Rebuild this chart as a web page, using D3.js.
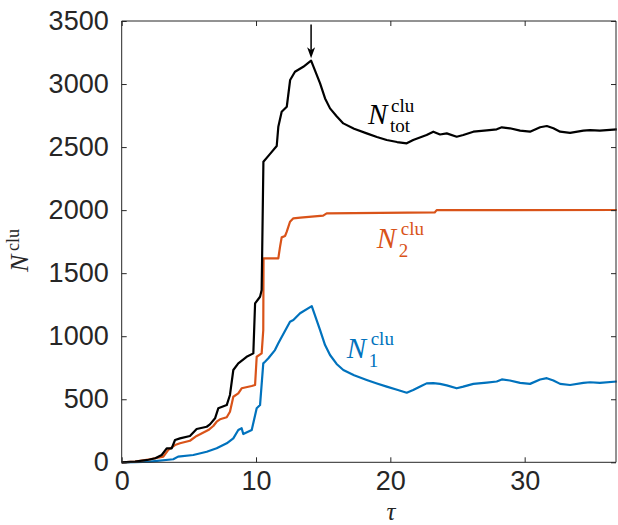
<!DOCTYPE html>
<html><head><meta charset="utf-8">
<script src="https://cdn.jsdelivr.net/npm/d3@7"></script>
<style>body{margin:0;background:#fff}svg{display:block}</style>
</head><body>
<script>
// ---- data ----
const tauTot = [0,1,2,2.5,2.98,3.35,3.72,3.97,4.34,5.08,5.58,6.33,6.57,6.95,7.19,7.82,8.06,8.31,8.68,9.3,9.8,9.93,10.3,10.42,10.55,11.0,11.54,11.66,11.91,12.29,12.54,12.9,13.52,14.1,14.77,15.14,15.51,16.0,16.5,17.3,18.24,19.0,19.73,20.5,21.22,21.7,22.3,22.7,23.2,23.7,24.2,24.94,25.43,26.18,27.18,27.92,28.3,28.9,29.66,30.4,31.15,31.65,32.14,32.64,33.38,34.37,34.87,35.6,36.86];
const nTot   = [0,5,20,32,58,111,111,177,190,209,264,282,301,349,428,454,534,732,785,837,864,1260,1313,1366,2384,2440,2508,2661,2780,2820,3032,3097,3137,3185,3005,2886,2807,2745,2688,2645,2609,2580,2556,2540,2530,2556,2580,2596,2622,2600,2609,2582,2596,2622,2632,2641,2657,2649,2630,2622,2657,2667,2649,2622,2613,2630,2635,2630,2641];

const tauN2 = [0,1,2.1,3.1,3.47,3.97,4.34,5.08,5.58,6.45,6.82,7.07,7.32,7.82,8.06,8.31,8.68,8.93,9.68,9.93,10.05,10.42,10.54,10.56,11.66,11.79,11.91,12.16,12.29,12.53,12.78,13.3,15.0,15.26,23.3,23.45,36.86];
const nN2   = [0,5,24,45,98,137,151,171,209,256,288,322,341,357,401,520,547,587,605,613,837,864,1049,1618,1618,1710,1784,1795,1829,1908,1935,1940,1956,1974,1982,2000,2001];

const tauN1 = [0,1,2.1,3.84,4.2,5.33,6.33,7.07,7.82,8.31,8.68,8.93,9.05,9.68,10.05,10.3,10.54,10.67,10.92,11.41,11.66,11.79,12.53,12.78,13.28,14.15,14.77,15.14,15.51,16.0,16.5,17.3,18.24,19.0,19.73,20.5,21.22,21.7,22.3,22.7,23.2,23.7,24.2,24.94,25.43,26.18,27.18,27.92,28.3,28.9,29.66,30.4,31.15,31.65,32.14,32.64,33.38,34.37,34.87,35.6,36.86];
const nN1   = [0,1,5,24,45,58,84,111,151,190,256,270,224,256,428,454,785,798,825,890,944,970,1115,1128,1182,1239,1049,930,851,780,732,690,653,625,600,575,552,573,605,626,628,622,610,587,600,622,632,641,657,649,630,622,657,667,649,622,613,630,635,630,641];

const xTicks = [0,10,20,30];
const yTicks = [0,500,1000,1500,2000,2500,3000,3500];
const xDomain = [0,36.8];
const yDomain = [0,3500];
const peak = {t:14.1, n:3185};

// ---- layout ----
const W=618,H=525;
const L=121.7,R=616,T=21,B=462.3;
const axisCol="#262626";
const sans="'Liberation Sans', Arial, Helvetica, sans-serif";
const serif="'Liberation Serif', 'Times New Roman', serif";

const svg=d3.select("body").append("svg").attr("width",W).attr("height",H);
const x=d3.scaleLinear().domain(xDomain).range([L,R]);
const y=d3.scaleLinear().domain(yDomain).range([B,T]);

// lines
const line=d3.line().x(d=>x(d[0])).y(d=>y(d[1]));
const series=[
  {t:tauN1,n:nN1,c:"#0072BD"},
  {t:tauN2,n:nN2,c:"#D95319"},
  {t:tauTot,n:nTot,c:"#000000"}
];
series.forEach(s=>{
  svg.append("path").datum(s.t.map((t,i)=>[t,s.n[i]]))
    .attr("d",line).attr("fill","none").attr("stroke",s.c)
    .attr("stroke-width",2.2).attr("stroke-linejoin","round");
});

// axes
const xb=d3.axisBottom(x).tickValues(xTicks).tickSize(-5).tickPadding(9).tickFormat(d3.format("d"));
const xt=d3.axisTop(x).tickValues(xTicks).tickSize(-5).tickFormat("");
const yl=d3.axisLeft(y).tickValues(yTicks).tickSize(-5).tickPadding(13).tickFormat(d3.format("d"));
const yr=d3.axisRight(y).tickValues(yTicks).tickSize(-5).tickFormat("");
function style(g){g.selectAll("path,line").attr("stroke",axisCol).attr("stroke-width",1);g.selectAll("text").attr("fill",axisCol).attr("font-family",sans).attr("font-size",27);}
svg.append("g").attr("transform",`translate(0,${B})`).call(xb).call(style).select(".domain").attr("d",`M${L},0H${R}`);
svg.append("g").attr("transform",`translate(0,${T})`).call(xt).call(style).select(".domain").attr("d",`M${L},0H${R}`);
svg.append("g").attr("transform",`translate(${L},0)`).call(yl).call(style).select(".domain").attr("d",`M0,${B}V${T}`);
svg.append("g").attr("transform",`translate(${R},0)`).call(yr).call(style).select(".domain").attr("d",`M0,${B}V${T}`);

// math labels
function mathLabel(g, px, py, color, fs, sup, sub, supDx, supDy, subDx, subDy, sfs){
  g.append("text").attr("x",px).attr("y",py).attr("font-family",serif).attr("font-style","italic")
    .attr("font-size",fs).attr("fill",color).text("N");
  g.append("text").attr("x",px+supDx).attr("y",py+supDy).attr("font-family",serif)
    .attr("font-size",sfs).attr("fill",color).text(sup);
  if(sub) g.append("text").attr("x",px+subDx).attr("y",py+subDy).attr("font-family",serif)
    .attr("font-size",sfs).attr("fill",color).text(sub);
}
mathLabel(svg, x(18.34), y(2685), "#000", 29, "clu", "tot", 23, -12, 22, 8.5, 19);
mathLabel(svg, x(18.99), y(1699), "#D95319", 29, "clu", "2", 24, -13, 22, 8.5, 19);
mathLabel(svg, x(16.75), y(825), "#0072BD", 29, "clu", "1", 24, -13, 22, 8.5, 19);

// y label (rotated)
const yg=svg.append("g").attr("transform","translate(28,272) rotate(-90)");
mathLabel(yg, 0, 0, axisCol, 26, "clu", null, 21, -9, 0, 0, 18);

// x label
svg.append("text").attr("x",391).attr("y",519.5).attr("text-anchor","middle")
  .attr("font-family",serif).attr("font-style","italic").attr("font-size",25).attr("fill",axisCol).text("τ");

// arrow to peak
const ax0=x(peak.t), yTop=y(3473), yTip=y(3204);
svg.append("line").attr("x1",ax0).attr("x2",ax0).attr("y1",yTop).attr("y2",yTip-6).attr("stroke","#000").attr("stroke-width",1.5);
svg.append("path").attr("d",`M${ax0},${yTip} L${ax0-4},${yTip-11} L${ax0},${yTip-8} L${ax0+4},${yTip-11} Z`).attr("fill","#000");
</script>
</body></html>
